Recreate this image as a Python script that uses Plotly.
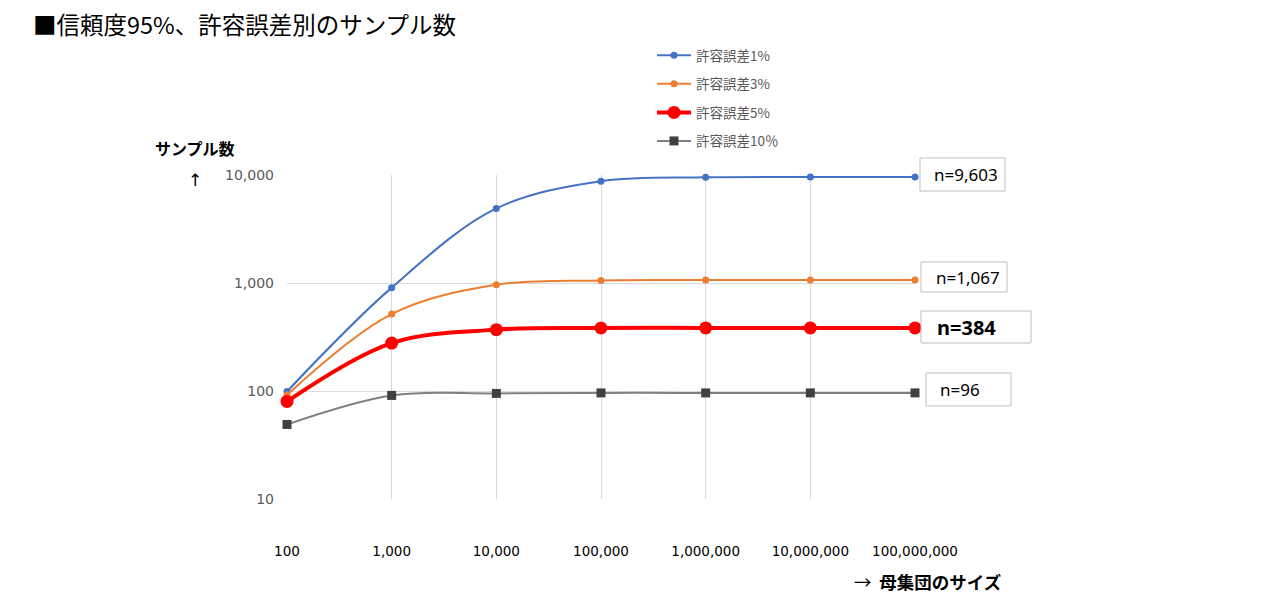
import plotly.graph_objects as go

categories = ["100", "1,000", "10,000", "100,000", "1,000,000", "10,000,000", "100,000,000"]
err1 = [99, 906, 4899, 8762, 9513, 9594, 9603]
err3 = [92, 516, 964, 1056, 1066, 1067, 1067]
err5 = [80, 278, 370, 383, 384, 384, 384]
err10 = [49, 91, 95, 96, 96, 96, 96]
series_names = ["許容誤差1%", "許容誤差3%", "許容誤差5%", "許容誤差10％"]
end_labels = ["n=9,603", "n=1,067", "n=384", "n=96"]
ytick_vals = [10, 100, 1000, 10000]
ytick_text = ["10", "100", "1,000", "10,000"]

FONT = "Noto Sans CJK JP"
O = 8  # page body margin
W, H = 1280 - 2 * O, 605 - 2 * O
L, R, T, B = 287 - O, 915 - O, 175 - O, 499 - O

def px(x):
    return (x - O - L) / (R - L)

def py(y):
    return (B - (y - O)) / (B - T)

fig = go.Figure()
styles = [
    dict(line=dict(color="#4472C4", width=2), marker=dict(color="#4472C4", size=7, symbol="circle")),
    dict(line=dict(color="#ED7D31", width=2), marker=dict(color="#ED7D31", size=7, symbol="circle")),
    dict(line=dict(color="#FF0000", width=4), marker=dict(color="#FF0000", size=13, symbol="circle")),
    dict(line=dict(color="#808080", width=2), marker=dict(color="#404040", size=9, symbol="square")),
]
for i, (name, vals) in enumerate(zip(series_names, [err1, err3, err5, err10])):
    st = styles[i]
    fig.add_trace(go.Scatter(
        x=categories, y=vals, name=name, mode="lines+markers",
        line=dict(shape="spline", smoothing=1.0, **st["line"]),
        marker=st["marker"], legendgroup=f"g{i}", cliponaxis=False,
    ))

fig.update_layout(
    width=W, height=H,
    margin=dict(l=L, r=W - R, t=T, b=H - B),
    paper_bgcolor="white", plot_bgcolor="white",
    font=dict(family=FONT, color="#595959"),
    showlegend=True,
    legend=dict(x=px(652), y=py(40), xanchor="left", yanchor="top",
                font=dict(size=13.5, color="#595959", family=FONT),
                tracegroupgap=8, itemwidth=34, bgcolor="rgba(0,0,0,0)"),
    xaxis=dict(type="category", range=[0, 6], showgrid=True, gridcolor="#d9d9d9",
               gridwidth=1, showline=False, zeroline=False, ticks="",
               tickfont=dict(size=13.5, color="#000000", family="DejaVu Sans"),
               ticklabelstandoff=42),
    yaxis=dict(type="log", range=[1, 4], tickvals=ytick_vals, ticktext=ytick_text,
               showgrid=True, gridcolor="#d9d9d9", gridwidth=1, showline=False,
               zeroline=False, ticks="", ticklabelstandoff=12,
               tickfont=dict(size=14, color="#595959", family="DejaVu Sans")),
)

ann = []
ann.append(dict(text="■信頼度95%、許容誤差別のサンプル数", x=px(31), y=py(24), xref="paper", yref="paper",
                xanchor="left", yanchor="middle", showarrow=False,
                font=dict(size=23.5, color="#000000", family=FONT)))
ann.append(dict(text="<b>サンプル数</b>", x=px(153), y=py(148), xref="paper", yref="paper",
                xanchor="left", yanchor="middle", showarrow=False,
                font=dict(size=16, color="#000000", family=FONT)))
ann.append(dict(text="↑", x=px(195), y=py(180), xref="paper", yref="paper",
                xanchor="center", yanchor="middle", showarrow=False,
                font=dict(size=17, color="#000000", family="DejaVu Sans")))
ann.append(dict(text="→  <b>母集団のサイズ</b>", x=px(1004), y=py(581), xref="paper", yref="paper",
                xanchor="right", yanchor="middle", showarrow=False,
                font=dict(size=17.5, color="#000000", family=FONT)))

shapes = []
boxes = [
    (920, 158, 1005, 191, 932, 17, False),
    (921, 262, 1007, 292, 934, 17, False),
    (921, 311, 1031, 343, 935, 20, True),
    (926, 373, 1011, 406, 938, 17, False),
]
for (x0, y0, x1, y1, tx, fs, bold), lab in zip(boxes, end_labels):
    shapes.append(dict(type="rect", xref="paper", yref="paper",
                       x0=px(x0), x1=px(x1), y0=py(y1), y1=py(y0),
                       line=dict(color="#bfbfbf", width=1), fillcolor="white", layer="above"))
    ann.append(dict(text=f"<b>{lab}</b>" if bold else lab, x=px(tx), y=py((y0 + y1) / 2),
                    xref="paper", yref="paper", xanchor="left", yanchor="middle",
                    showarrow=False, align="left",
                    font=dict(size=fs, color="#000000", family="Noto Sans")))
fig.update_layout(annotations=ann, shapes=shapes)

fig.write_html("out.html")
